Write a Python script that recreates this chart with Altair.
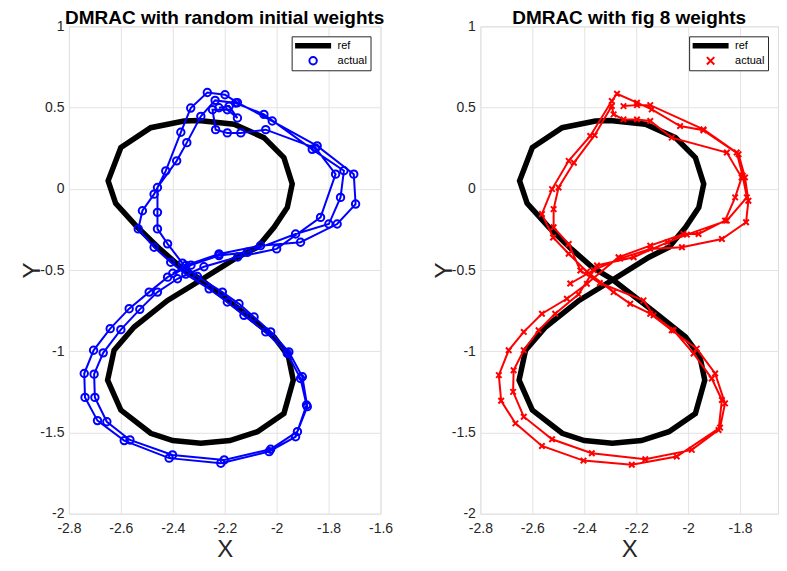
import altair as alt
import pandas as pd

# ---------------- data ----------------
ref_x = [-2.29, -2.22, -2.151, -2.074, -2.010, -1.959, -1.94, -1.972, -2.049, -2.164, -2.30, -2.357, -2.485,
         -2.60, -2.649, -2.62, -2.536, -2.45, -2.369, -2.29, -2.138, -2.010, -1.955, -1.936, -1.972, -2.074,
         -2.18, -2.292, -2.40, -2.485, -2.60, -2.651, -2.626, -2.549, -2.420, -2.29]
ref_y = [-0.56, -0.49, -0.421, -0.360, -0.237, -0.115, 0.03, 0.192, 0.315, 0.397, 0.42, 0.417, 0.376,
         0.254, 0.049, -0.09, -0.237, -0.37, -0.483, -0.56, -0.748, -0.912, -1.03, -1.178, -1.383, -1.495,
         -1.55, -1.566, -1.55, -1.505, -1.362, -1.178, -0.994, -0.851, -0.687, -0.56]

blue_x = [-2.40, -2.350, -2.222, -2.062, -1.908, -1.767, -1.696, -1.703, -1.844, -2.017, -2.151, -2.199,
          -2.267, -2.331, -2.369, -2.427, -2.472, -2.517, -2.533, -2.472, -2.408, -2.350, -2.260, -2.190,
          -2.126, -2.042, -1.959, -1.908, -1.885, -1.927, -2.029, -2.215, -2.414, -2.587, -2.690, -2.738,
          -2.741, -2.705, -2.641, -2.568, -2.491, -2.420, -2.330, -2.222, -2.113, -1.927, -1.799, -1.754,
          -1.741, -1.863, -2.049, -2.158, -2.237, -2.292, -2.346, -2.385, -2.459, -2.459, -2.459, -2.420,
          -2.363, -2.305, -2.209, -2.145, -2.087, -2.023, -1.953, -1.901, -1.882, -1.920, -2.023, -2.202,
          -2.401, -2.565, -2.654, -2.700, -2.703, -2.668, -2.600, -2.527, -2.459, -2.382, -2.280, -2.150,
          -2.000, -1.831, -1.773, -1.850, -2.042, -2.138, -2.190, -2.235, -2.247, -2.190, -2.151, -2.183,
          -2.222]
blue_y = [-0.52, -0.472, -0.401, -0.350, -0.329, -0.217, -0.094, 0.090, 0.264, 0.417, 0.530, 0.579,
          0.593, 0.497, 0.348, 0.110, -0.033, -0.135, -0.247, -0.360, -0.452, -0.525, -0.616, -0.697,
          -0.779, -0.881, -1.014, -1.168, -1.331, -1.526, -1.618, -1.689, -1.658, -1.550, -1.427, -1.284,
          -1.137, -0.994, -0.861, -0.738, -0.636, -0.544, -0.470, -0.411, -0.391, -0.278, -0.217, -0.053,
          0.111, 0.243, 0.458, 0.528, 0.544, 0.446, 0.284, 0.172, 0.008, -0.145, -0.247, -0.339,
          -0.458, -0.540, -0.636, -0.708, -0.789, -0.881, -1.004, -1.157, -1.341, -1.495, -1.603, -1.669,
          -1.638, -1.546, -1.434, -1.284, -1.141, -1.010, -0.867, -0.742, -0.636, -0.554, -0.480, -0.420,
          -0.370, -0.176, 0.090, 0.250, 0.364, 0.344, 0.344, 0.364, 0.487, 0.487, 0.436, 0.509,
          0.499]

red_x = [-2.454, -2.364, -2.262, -2.146, -2.024, -1.870, -1.777, -1.768, -1.781, -1.806, -1.941, -2.031,
         -2.140, -2.197, -2.274, -2.294, -2.377, -2.460, -2.524, -2.563, -2.520, -2.460, -2.390, -2.287,
         -2.223, -2.146, -2.063, -1.967, -1.896, -1.858, -1.877, -2.044, -2.217, -2.403, -2.563, -2.665,
         -2.720, -2.729, -2.691, -2.633, -2.563, -2.467, -2.390, -2.268, -2.146, -2.018, -1.960, -1.858,
         -1.819, -1.794, -1.851, -2.063, -2.146, -2.197, -2.249, -2.287, -2.294, -2.360, -2.440, -2.499,
         -2.518, -2.518, -2.460, -2.415, -2.340, -2.172, -2.133, -2.056, -1.979, -1.909, -1.870, -1.883,
         -1.986, -2.165, -2.371, -2.524, -2.633, -2.674, -2.672, -2.633, -2.576, -2.512, -2.422, -2.351,
         -2.210, -2.080, -2.005, -1.851, -1.774, -1.790, -1.813, -1.941, -2.146, -2.197, -2.249]
red_y = [-0.583, -0.500, -0.430, -0.370, -0.360, -0.309, -0.206, -0.074, 0.070, 0.213, 0.360, 0.386,
         0.489, 0.530, 0.585, 0.540, 0.325, 0.172, -0.002, -0.155, -0.300, -0.400, -0.510, -0.636,
         -0.708, -0.769, -0.871, -0.984, -1.137, -1.321, -1.470, -1.648, -1.699, -1.673, -1.583, -1.444,
         -1.305, -1.147, -0.994, -0.881, -0.769, -0.677, -0.585, -0.421, -0.350, -0.278, -0.278, -0.196,
         -0.053, 0.069, 0.223, 0.315, 0.417, 0.427, 0.427, 0.458, 0.510, 0.330, 0.160, 0.008,
         -0.125, -0.237, -0.340, -0.503, -0.580, -0.687, -0.779, -0.871, -1.014, -1.168, -1.300, -1.485,
         -1.607, -1.665, -1.628, -1.542, -1.403, -1.250, -1.117, -0.994, -0.871, -0.769, -0.650, -0.472,
         -0.421, -0.330, -0.282, -0.196, -0.053, 0.080, 0.223, 0.366, 0.515, 0.515, 0.509]

series_names = ["ref", "actual"]
x_ticks_left = [-2.8, -2.6, -2.4, -2.2, -2.0, -1.8, -1.6]
x_ticks_right = [-2.8, -2.6, -2.4, -2.2, -2.0, -1.8]
y_ticks = [-2, -1.5, -1, -0.5, 0, 0.5, 1]

TXT = "#262626"
FONT = "Liberation Sans"
LABEL_EXPR = "datum.value == 0 ? '0' : (datum.value < 0 ? '-' : '') + format(abs(datum.value), '.1~f')"


def panel(title, tx, ty, color, shape, msize, xmax, xticks, width):
    ref_df = pd.DataFrame({"x": ref_x, "y": ref_y, "i": list(range(len(ref_x)))})
    act_df = pd.DataFrame({"x": tx, "y": ty, "i": list(range(len(tx))), "series": ["actual"] * len(tx)})

    xs = alt.Scale(domain=[-2.8, xmax], nice=False, zero=False)
    ys = alt.Scale(domain=[-2, 1], nice=False, zero=False)
    xax = alt.Axis(values=xticks, labelExpr=LABEL_EXPR, title="X", titleFontSize=24,
                   titleFontWeight="normal", titleColor=TXT, titlePadding=2, labelFlush=False,
                   labelFontSize=14, labelColor=TXT, labelPadding=8, ticks=False,
                   domain=False, grid=True, gridColor="#e3e3e3", labelFont=FONT, titleFont=FONT)
    yax = alt.Axis(values=y_ticks, labelExpr=LABEL_EXPR, title="Y", titleFontSize=24,
                   titleFontWeight="normal", titleColor=TXT, titlePadding=-5,
                   labelFontSize=14, labelColor=TXT, labelPadding=5, ticks=False,
                   domain=False, grid=True, gridColor="#e3e3e3", labelFont=FONT, titleFont=FONT)

    leg = alt.Legend(
        title=None, orient="top-right", offset=10,
        symbolSize=alt.ExprRef("(datum.value == 'ref' ? 1300 : 55)"),
        symbolStrokeWidth=alt.ExprRef("(datum.value == 'ref' ? 5.5 : 2)"),
        symbolOffset=13, labelOffset=19,
        clipHeight=13, rowPadding=2, padding=3,
        labelFontSize=11, labelFont=FONT, labelColor="black",
        strokeColor=TXT, fillColor="white", cornerRadius=0,
    )

    ref_line = alt.Chart(ref_df).mark_line(color="black", strokeWidth=5.5).encode(
        x=alt.X("x:Q", scale=xs, axis=xax),
        y=alt.Y("y:Q", scale=ys, axis=yax),
        order="i:Q",
    )
    act_line = alt.Chart(act_df).mark_line(color=color, strokeWidth=2).encode(
        x=alt.X("x:Q", scale=xs), y=alt.Y("y:Q", scale=ys), order="i:Q"
    )
    act_pts = alt.Chart(act_df).mark_point(filled=False, strokeWidth=2, size=msize, opacity=1).encode(
        x=alt.X("x:Q", scale=xs), y=alt.Y("y:Q", scale=ys),
        color=alt.Color("series:N", scale=alt.Scale(domain=series_names, range=["black", color]), legend=leg),
        shape=alt.Shape("series:N", scale=alt.Scale(domain=series_names, range=["stroke", shape]), legend=leg),
    )
    return alt.layer(ref_line, act_line, act_pts).properties(
        width=width, height=488,
        title=alt.TitleParams(title, fontSize=19, fontWeight="bold", font=FONT, color="black", offset=-8.5),
    )


left = panel("DMRAC with random initial weights", blue_x, blue_y, "#0000ff", "circle", 55,
             -1.6, x_ticks_left, 312)
right = panel("DMRAC with fig 8 weights", red_x, red_y, "#ff0000", "M-1,-1L1,1M-1,1L1,-1", 30,
              -1.654, x_ticks_right, 298)

chart = alt.hconcat(left, right, spacing=100, bounds="flush").resolve_scale(
    color="independent", shape="independent", x="independent", y="independent"
).properties(
    padding={"left": 12, "top": 0, "right": 0, "bottom": 0}
).configure_view(stroke=TXT, strokeWidth=1).configure(background="white")

chart.save("out.html", embed_options={"renderer": "svg", "actions": False})
